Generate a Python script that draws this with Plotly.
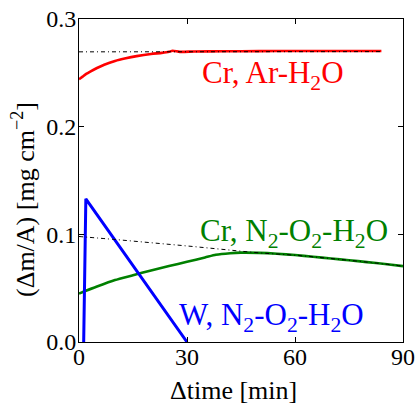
import plotly.graph_objects as go

# Data
cr_ar_t = [0, 1, 2, 3, 5, 7, 10, 13, 16, 20, 23, 25, 26, 28, 32, 40, 50, 60, 70, 84]
cr_ar_v = [0.244, 0.2465, 0.249, 0.251, 0.2545, 0.2575, 0.261, 0.2635, 0.2655, 0.2675, 0.2685, 0.2695, 0.2705, 0.2695, 0.2698, 0.2700, 0.2702, 0.2703, 0.2703, 0.2703]
cr_ar_fit_t = [0, 84]
cr_ar_fit_v = [0.2695, 0.2697]

cr_n2_t = [0, 5, 10, 15, 20, 25, 30, 35, 38, 42, 45, 50, 55, 60, 65, 70, 75, 80, 85, 90]
cr_n2_v = [0.045, 0.0515, 0.0575, 0.062, 0.0665, 0.0705, 0.0745, 0.0785, 0.081, 0.0825, 0.083, 0.0828, 0.082, 0.0808, 0.0792, 0.0775, 0.076, 0.0742, 0.0725, 0.0705]
cr_n2_fit_t = [0, 10, 20, 30, 40, 50, 60, 70, 80, 90]
cr_n2_fit_v = [0.098, 0.0952, 0.0922, 0.0892, 0.086, 0.0828, 0.0806, 0.0775, 0.0742, 0.0705]

w_t = [1.3, 1.9, 30]
w_v = [0.0, 0.133, 0.0]

x_ticks = [0, 30, 60, 90]
y_ticks = [0.0, 0.1, 0.2, 0.3]
y_tick_text = ["0.0", "0.1", "0.2", "0.3"]

SERIF = "Liberation Serif"

fig = go.Figure()
fig.add_trace(go.Scatter(x=cr_ar_t, y=cr_ar_v, mode="lines",
                         line=dict(color="#ff0000", width=2.6, shape="spline", smoothing=0.6)))
fig.add_trace(go.Scatter(x=cr_n2_t, y=cr_n2_v, mode="lines",
                         line=dict(color="#008000", width=2.6, shape="spline", smoothing=0.6)))
fig.add_trace(go.Scatter(x=w_t, y=w_v, mode="lines",
                         line=dict(color="#0000ff", width=3)))
fig.add_trace(go.Scatter(x=cr_ar_fit_t, y=cr_ar_fit_v, mode="lines",
                         line=dict(color="black", width=1, dash="4px,3px,1px,3px")))
fig.add_trace(go.Scatter(x=cr_n2_fit_t, y=cr_n2_fit_v, mode="lines",
                         line=dict(color="black", width=1, dash="4px,3px,1px,3px", shape="spline")))

axis_common = dict(showgrid=False, zeroline=False, showline=True, linecolor="black",
                   linewidth=1, mirror="ticks", ticks="inside", ticklen=5, automargin=False,
                   tickcolor="black", tickfont=dict(family=SERIF, size=24, color="black"))

fig.update_xaxes(range=[0, 90], tickvals=x_ticks, ticklabelstandoff=-7, **axis_common)
fig.update_yaxes(range=[0, 0.3], tickvals=y_ticks, ticktext=y_tick_text, ticklabelstandoff=-3, **axis_common)

fig.add_annotation(x=54, y=0.248, xref="x", yref="y", text="Cr, Ar-H<sub>2</sub>O",
                   showarrow=False, font=dict(family=SERIF, size=31, color="#ff0000"))
fig.add_annotation(x=59.7, y=0.101, xref="x", yref="y", text="Cr, N<sub>2</sub>-O<sub>2</sub>-H<sub>2</sub>O",
                   showarrow=False, font=dict(family=SERIF, size=31, color="#008000"))
fig.add_annotation(x=53.4, y=0.023, xref="x", yref="y", text="W, N<sub>2</sub>-O<sub>2</sub>-H<sub>2</sub>O",
                   showarrow=False, font=dict(family=SERIF, size=31, color="#0000ff"))

fig.add_annotation(x=233, y=390, text="Δtime [min]",
                   showarrow=False, font=dict(family=SERIF, size=26, color="black"))
fig.add_annotation(x=23, y=200, text="(Δm/A) [mg cm<sup>−2</sup>]", textangle=-90,
                   showarrow=False, font=dict(family=SERIF, size=26, color="black"))

# convert pixel-placed title annotations to paper coords
L, R, T, B = 79, 15, 19, 63
W, H = 418, 405
pw, ph = W - L - R, H - T - B
anns = list(fig.layout.annotations)
for a in anns[3:]:
    px, py = a.x, a.y
    a.update(xref="paper", yref="paper", x=(px - L) / pw, y=1 - (py - T) / ph,
             xanchor="center", yanchor="middle")
fig.layout.annotations = anns

fig.update_layout(width=W, height=H, margin=dict(l=L, r=R, t=T, b=B),
                  showlegend=False, plot_bgcolor="white", paper_bgcolor="white")

fig.write_html("out.html", config={"displayModeBar": False},
               post_script="document.body.style.margin='0';")
